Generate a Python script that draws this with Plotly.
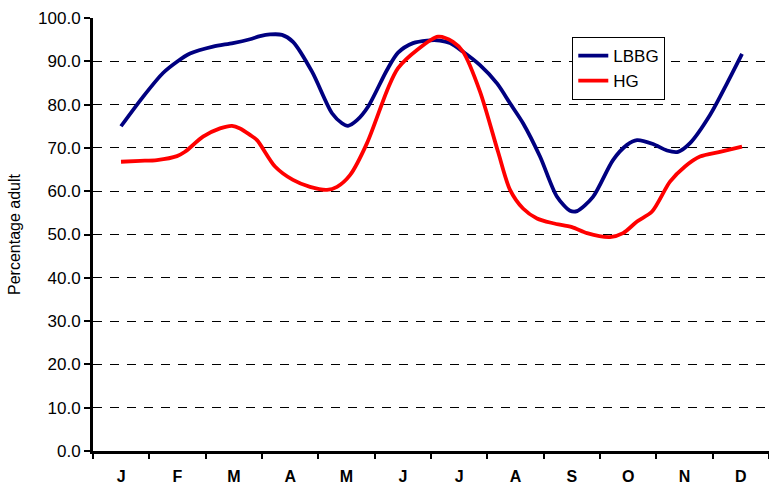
import plotly.graph_objects as go

months = ["J", "F", "M", "A", "M", "J", "J", "A", "S", "O", "N", "D"]

# x positions expressed in months from start of year (0 = 1 Jan, 12 = 31 Dec)
lbbg_x = [0.497, 0.888, 1.243, 1.491, 1.722, 2.130, 2.485, 2.787, 2.965, 3.142, 3.355,
          3.550, 3.888, 4.243, 4.420, 4.527, 4.687, 4.882, 5.219, 5.415, 5.681, 5.929,
          6.160, 6.338, 6.569, 6.870, 7.172, 7.403, 7.634, 7.935, 8.237, 8.468, 8.592,
          8.876, 9.231, 9.480, 9.658, 9.941, 10.190, 10.385, 10.598, 10.953, 11.255, 11.521]
lbbg_y = [75.0, 81.8, 87.3, 89.9, 91.8, 93.4, 94.2, 95.1, 95.8, 96.2, 96.1,
          94.5, 87.6, 78.0, 75.7, 75.1, 76.4, 79.5, 88.0, 92.0, 94.2, 94.8,
          94.8, 94.2, 92.2, 89.1, 84.9, 80.3, 75.7, 68.0, 58.7, 55.5, 55.4,
          58.7, 67.2, 70.7, 71.8, 70.9, 69.4, 69.1, 71.1, 77.6, 84.9, 91.7]

hg_x = [0.497, 0.834, 1.136, 1.491, 1.633, 1.953, 2.255, 2.468, 2.610, 2.787, 2.911,
        3.231, 3.550, 3.852, 4.154, 4.332, 4.562, 4.864, 5.237, 5.415, 5.752, 6.125,
        6.391, 6.569, 6.870, 7.190, 7.403, 7.634, 7.882, 8.166, 8.503, 8.770, 9.178,
        9.409, 9.658, 9.924, 10.243, 10.509, 10.775, 11.130, 11.521]
hg_y = [66.8, 67.0, 67.2, 68.1, 69.1, 72.6, 74.5, 75.1, 74.5, 73.0, 71.8,
        65.7, 62.6, 61.0, 60.3, 61.0, 63.7, 71.1, 83.8, 88.4, 92.6, 95.7,
        94.5, 92.2, 83.0, 69.1, 60.3, 56.0, 53.7, 52.6, 51.7, 50.3, 49.4,
        50.3, 53.0, 55.3, 62.2, 65.7, 68.0, 69.1, 70.3]

y_ticks = [0, 10, 20, 30, 40, 50, 60, 70, 80, 90, 100]

fig = go.Figure()
fig.add_trace(go.Scatter(x=lbbg_x, y=lbbg_y, mode="lines", name="LBBG",
                         line=dict(color="#000080", width=3.8, shape="spline", smoothing=0.8)))
fig.add_trace(go.Scatter(x=hg_x, y=hg_y, mode="lines", name="HG",
                         line=dict(color="#FF0000", width=3.8, shape="spline", smoothing=0.8)))

fig.update_layout(
    width=769, height=486,
    margin=dict(l=93, r=0, t=18, b=35),
    paper_bgcolor="white", plot_bgcolor="white",
    font=dict(family="Liberation Sans, Arial, sans-serif", color="black"),
    showlegend=True,
    legend=dict(x=0.709, y=0.956, xanchor="left", yanchor="top",
                bgcolor="white", bordercolor="black", borderwidth=1,
                font=dict(size=17, color="black"), itemwidth=30),
    xaxis=dict(
        range=[0, 12],
        tickmode="array",
        tickvals=[i + 0.5 for i in range(12)],
        ticktext=["<b>%s</b>" % m for m in months],
        ticks="", showgrid=False, zeroline=False,
        showline=True, linecolor="black", linewidth=3,
        tickfont=dict(size=16, color="black"),
        ticklabelstandoff=9,
        minor=dict(tickmode="array", tickvals=list(range(13)), ticks="outside",
                   ticklen=5, tickwidth=2, tickcolor="black", showgrid=False),
        fixedrange=True,
    ),
    yaxis=dict(
        range=[0, 100],
        tickmode="array", tickvals=y_ticks,
        ticktext=["%.1f" % v for v in y_ticks],
        ticks="outside", ticklen=6, tickwidth=2, tickcolor="black",
        showgrid=True, gridcolor="black", gridwidth=1, griddash="9px,8px",
        zeroline=False, showline=True, linecolor="black", linewidth=3,
        tickfont=dict(size=17, color="black"),
        title=dict(text="Percentage adult", font=dict(size=16, color="black"), standoff=14),
        fixedrange=True,
    ),
)

fig.write_html("out.html", config={"displayModeBar": False},
               post_script="document.body.style.margin='0px';document.body.style.overflow='hidden';")
